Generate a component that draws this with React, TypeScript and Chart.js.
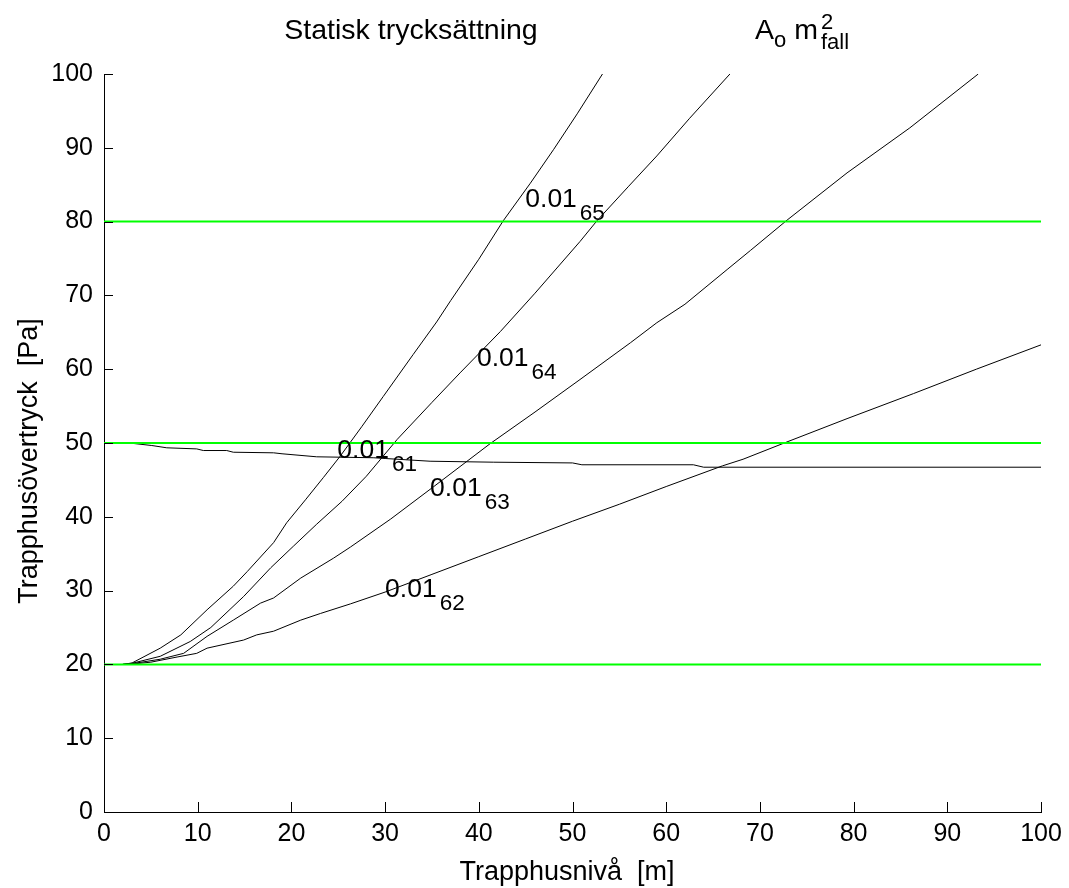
import React, { useEffect, useRef } from "react";
import { Chart, registerables } from "chart.js";

Chart.register(...registerables);

const FONT = '"Liberation Sans", Arial, Helvetica, sans-serif';

// axis ticks
const xTicks = [0, 10, 20, 30, 40, 50, 60, 70, 80, 90, 100];
const yTicks = [0, 10, 20, 30, 40, 50, 60, 70, 80, 90, 100];

// reference pressure levels (green lines)
const levels = [20, 50, 80];

// curve 0.01_61
const x61 = [3.2, 5.1, 6.7, 9.9, 10.6, 13.1, 13.8, 18.1, 19, 22.7, 28.8, 30, 34.8, 41.6, 50, 51, 62.9, 64, 100];
const y61 = [49.93, 49.66, 49.35, 49.2, 48.98, 48.98, 48.75, 48.67, 48.54, 48.13, 48.0, 47.9, 47.53, 47.4, 47.3, 47.05, 47.05, 46.72, 46.72];

// curve 0.01_62
const x62 = [2, 3, 5, 7.8, 9.9, 11, 14.9, 16.3, 18.1, 21, 23.1, 26.3, 30, 35, 40, 45, 50, 55, 60, 66, 68.2, 72.8, 79.3, 86.4, 93.1, 100];
const y62 = [20, 20.05, 20.3, 21.0, 21.5, 22.2, 23.3, 24.0, 24.5, 26, 26.9, 28.2, 29.8, 32.2, 34.6, 37.0, 39.4, 41.7, 44.1, 46.9, 47.8, 50.1, 53.3, 56.7, 60.0, 63.3];

// curve 0.01_63
const x63 = [2, 3, 6, 8.5, 11, 13.8, 16.7, 18.1, 21, 24.5, 26.3, 30.6, 35.2, 41.2, 46, 50.8, 56.2, 59, 62, 66.5, 69, 72.9, 79.3, 86, 93.3];
const y63 = [20, 20.1, 20.7, 21.5, 23.8, 26, 28.3, 29, 31.7, 34.4, 35.9, 39.7, 44.1, 49.9, 54.2, 58.6, 63.6, 66.3, 68.8, 73.5, 76.1, 80.2, 86.6, 92.7, 100];

// curve 0.01_64
const x64 = [2, 3, 6, 9.2, 11.4, 14.9, 17.8, 20.2, 22.7, 25.4, 28, 31.3, 35, 38, 42.3, 46, 50.8, 52.6, 56, 59, 62.5, 66.8];
const y64 = [20, 20.15, 21.1, 23.1, 25, 29.2, 33.1, 36, 39, 42.1, 45.5, 50.5, 55.5, 59.5, 65.1, 70.3, 77.3, 80.1, 84.8, 88.9, 94, 100];

// curve 0.01_65
const x65 = [2, 3, 6, 8.2, 11, 13.8, 15.3, 18.1, 19.5, 21.5, 23.4, 25.2, 27.5, 29.8, 33, 35.5, 37, 40, 42.6, 45.5, 48, 50.5, 53.2];
const y65 = [20, 20.2, 22.2, 24, 27.4, 30.6, 32.6, 36.5, 39.2, 42.3, 45.3, 48.2, 52.2, 56.3, 62, 66.4, 69.3, 74.9, 80.1, 85.2, 89.8, 94.6, 100];

// curve labels: main text, subscript, anchor (data coords, left/baseline)
const labelMain = ["0.01", "0.01", "0.01", "0.01", "0.01"];
const labelSub = ["65", "64", "61", "63", "62"];
const labelX = [44.96, 39.8, 24.9, 34.8, 30.0];
const labelY = [81.95, 60.5, 48.0, 42.8, 29.2];

const titleText = "Statisk trycksättning";
const xTitle = "Trapphusnivå  [m]";
const yTitle = "Trapphusövertryck  [Pa]";

const toPts = (xs: number[], ys: number[]) => xs.map((x, i) => ({ x, y: ys[i] }));

const overlay = {
  id: "overlay",
  afterDraw(chart: any) {
    const { ctx, chartArea, scales } = chart;
    const xs = scales.x;
    const ys = scales.y;
    ctx.save();
    // inward tick marks
    ctx.strokeStyle = "#000";
    ctx.lineWidth = 1;
    for (const v of xTicks) {
      const px = Math.round(xs.getPixelForValue(v)) + 0.5;
      ctx.beginPath();
      ctx.moveTo(px, chartArea.bottom);
      ctx.lineTo(px, chartArea.bottom - 10);
      ctx.stroke();
    }
    for (const v of yTicks) {
      const py = Math.round(ys.getPixelForValue(v)) + 0.5;
      ctx.beginPath();
      ctx.moveTo(chartArea.left, py);
      ctx.lineTo(chartArea.left + 9, py);
      ctx.stroke();
    }
    ctx.fillStyle = "#000";
    ctx.textBaseline = "alphabetic";

    // curve labels
    for (let i = 0; i < labelMain.length; i++) {
      const px = xs.getPixelForValue(labelX[i]);
      const py = ys.getPixelForValue(labelY[i]);
      ctx.font = `26.5px ${FONT}`;
      ctx.textAlign = "left";
      ctx.fillText(labelMain[i], px, py);
      const w = ctx.measureText(labelMain[i]).width;
      ctx.font = `22.5px ${FONT}`;
      ctx.fillText(labelSub[i], px + w + 3, py + 13);
    }

    // title
    ctx.font = `28.5px ${FONT}`;
    ctx.textAlign = "center";
    ctx.fillText(titleText, 411, 39);

    // A_o m^2_fall
    ctx.textAlign = "left";
    let cx = 755;
    ctx.font = `28.5px ${FONT}`;
    ctx.fillText("A", cx, 39);
    cx += ctx.measureText("A").width;
    ctx.font = `22px ${FONT}`;
    ctx.fillText("o", cx, 47);
    cx += ctx.measureText("o").width;
    ctx.font = `28.5px ${FONT}`;
    ctx.fillText(" m", cx, 39);
    cx += ctx.measureText(" m").width + 3;
    ctx.font = `22px ${FONT}`;
    ctx.fillText("2", cx, 29);
    ctx.fillText("fall", cx, 49);

    // axis titles
    ctx.font = `27px ${FONT}`;
    ctx.textAlign = "center";
    ctx.fillText(xTitle, 567, 880);
    ctx.translate(37, 461);
    ctx.rotate(-Math.PI / 2);
    ctx.fillText(yTitle, 0, 0);
    ctx.restore();
  },
};

export default function App() {
  const ref = useRef<HTMLCanvasElement | null>(null);
  useEffect(() => {
    document.body.style.margin = "0";
    const canvas = ref.current;
    if (!canvas) return;
    const black = (xs: number[], ys: number[]) => ({
      data: toPts(xs, ys),
      borderColor: "#000",
      borderWidth: 1,
      pointRadius: 0,
      tension: 0,
      fill: false,
      order: 2,
    });
    const green = levels.map((lv) => ({
      data: [
        { x: 0, y: lv },
        { x: 100, y: lv },
      ],
      borderColor: "#00ff00",
      borderWidth: 2,
      pointRadius: 0,
      fill: false,
      order: 1,
    }));
    const chart = new Chart(canvas, {
      type: "line",
      data: {
        datasets: [
          black(x61, y61),
          black(x62, y62),
          black(x63, y63),
          black(x64, y64),
          black(x65, y65),
          ...green,
        ],
      },
      options: {
        animation: false,
        responsive: false,
        devicePixelRatio: 1,
        layout: { padding: { top: 74, right: 28, left: 0, bottom: 0 } },
        plugins: { legend: { display: false }, tooltip: { enabled: false }, title: { display: false } },
        scales: {
          x: {
            type: "linear",
            min: 0,
            max: 100,
            ticks: { stepSize: 10, color: "#000", font: { family: FONT, size: 25 }, padding: 7, maxRotation: 0, autoSkip: false },
            grid: { display: false, drawTicks: false },
            border: { display: true, color: "#000", width: 1 },
            afterFit: (s: any) => {
              s.height = 76;
            },
          },
          y: {
            type: "linear",
            min: 0,
            max: 100,
            ticks: { stepSize: 10, color: "#000", font: { family: FONT, size: 25 }, padding: 11, autoSkip: false },
            grid: { display: false, drawTicks: false },
            border: { display: true, color: "#000", width: 1 },
            afterFit: (s: any) => {
              s.width = 104;
            },
          },
        },
      },
      plugins: [overlay],
    } as any);
    return () => chart.destroy();
  }, []);
  return (
    <div style={{ width: 1069, height: 888, background: "#fff" }}>
      <canvas ref={ref} width={1069} height={888} />
    </div>
  );
}
